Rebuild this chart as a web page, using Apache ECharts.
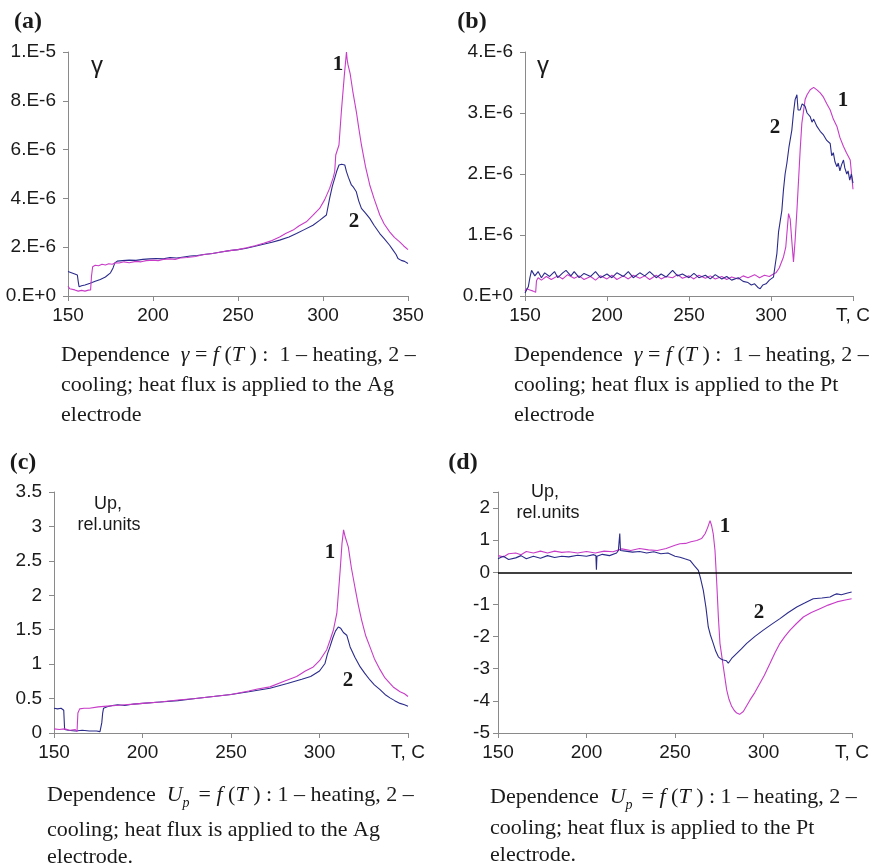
<!DOCTYPE html>
<html>
<head>
<meta charset="utf-8">
<script src="https://cdn.jsdelivr.net/npm/echarts@6/dist/echarts.min.js"></script>
<style>
html,body{margin:0;padding:0;background:#fff;}
#chart{width:877px;height:866px;}
</style>
</head>
<body>
<div id="chart"></div>
<script>
// ---------- DATA ----------
// x values: temperature T, C
var xTicks = [150, 200, 250, 300, 350];

// (a) gamma vs T, Ag electrode (values in units of 1e-6)
var aHeat = [[150,0.4],[151,0.3],[152,0.22],[154,0.25],[156,0.2],[158,0.23],[160,0.2],[162,0.24],[163.3,0.25],[163.8,0.8],[164.5,1.2],[166,1.26],[168,1.24],[170,1.3],[172,1.27],[174,1.32],[176,1.3],[178,1.36],[180,1.35],[183,1.4],[186,1.36],[190,1.42],[193,1.4],[196,1.45],[200,1.47],[203,1.45],[206,1.5],[210,1.52],[213,1.5],[216,1.56],[220,1.58],[225,1.62],[230,1.7],[235,1.74],[240,1.8],[245,1.86],[250,1.9],[255,1.98],[260,2.06],[265,2.16],[270,2.27],[274.5,2.42],[278,2.56],[282.4,2.7],[286,2.88],[290.2,3.04],[294,3.3],[298,3.59],[301,3.95],[303.9,4.41],[306,4.85],[306.9,5.1],[307.5,5.78],[309.4,6.19],[310.8,7.56],[312.5,9.0],[313.8,10.0],[314.2,9.7],[314.7,9.48],[316,9.1],[317.5,8.4],[319.6,7.56],[321,6.9],[322.6,6.19],[325,5.3],[327.5,4.55],[330,4.0],[333.4,3.32],[336,2.95],[339.2,2.63],[342,2.4],[345.1,2.22],[347.5,2.05],[350,1.9]];
var aCool = [[150,1.0],[152,0.95],[154,0.9],[155.5,0.86],[156,0.6],[156.5,0.38],[158,0.42],[160,0.45],[163,0.52],[166,0.6],[169,0.68],[172,0.78],[175,0.95],[176.5,1.15],[177.5,1.35],[179,1.43],[182,1.45],[186,1.47],[190,1.46],[194,1.5],[198,1.52],[202,1.54],[206,1.52],[210,1.58],[214,1.56],[218,1.6],[222,1.64],[226,1.66],[230,1.7],[235,1.74],[240,1.8],[245,1.86],[250,1.9],[255,1.96],[260,2.04],[265,2.12],[270,2.2],[274.5,2.29],[280,2.42],[284.4,2.56],[289,2.72],[294.1,2.9],[298,3.1],[302,3.32],[303.9,4.0],[305.5,4.5],[306.9,4.83],[308,5.1],[309.4,5.37],[311,5.4],[312.8,5.37],[313.8,5.1],[315,4.85],[316.7,4.55],[318,4.45],[319.6,4.27],[321,3.9],[322.6,3.59],[325,3.4],[327.5,3.18],[330,2.9],[333.4,2.56],[336,2.35],[339.2,2.08],[341,1.9],[343,1.7],[344.1,1.54],[346,1.46],[348,1.42],[350,1.33]];
var aYLabels = ['0.E+0','2.E-6','4.E-6','6.E-6','8.E-6','1.E-5'];

// (b) gamma vs T, Pt electrode (values in units of 1e-6)
var bHeat = [[150,0.08],[151,0.12],[153,0.1],[155,0.08],[156.5,0.06],[157,0.25],[158,0.3],[160,0.26],[163,0.32],[166,0.27],[170,0.33],[173,0.28],[176,0.35],[180,0.29],[183,0.33],[186,0.27],[190,0.32],[193,0.26],[196,0.33],[200,0.28],[203,0.34],[206,0.27],[210,0.33],[213,0.28],[216,0.34],[220,0.29],[223,0.33],[226,0.27],[230,0.34],[233,0.28],[236,0.32],[240,0.3],[243,0.35],[246,0.29],[250,0.33],[253,0.28],[256,0.34],[260,0.29],[263,0.33],[266,0.28],[270,0.32],[273,0.27],[276,0.31],[280,0.28],[283,0.33],[286,0.3],[290,0.35],[293,0.3],[296,0.34],[299,0.32],[301.5,0.36],[303,0.38],[305,0.46],[307.6,0.64],[309,0.8],[310.7,1.35],[311.7,1.26],[312.7,0.9],[313.7,0.56],[314.7,0.91],[315.8,1.4],[316.8,1.9],[317.8,2.4],[318.8,2.83],[320.8,3.22],[322,3.3],[323.9,3.38],[325,3.35],[326,3.42],[328,3.38],[330,3.33],[332,3.26],[334,3.15],[336.1,3.05],[338,2.9],[340.2,2.78],[342,2.6],[344.2,2.45],[346,2.35],[348.3,2.23],[349.5,2.2],[350,1.75]];
var bCool = [[150,0.05],[152,0.15],[153,0.3],[154,0.42],[156,0.33],[158,0.4],[160,0.3],[162,0.38],[165,0.32],[168,0.4],[170,0.3],[173,0.38],[175,0.42],[178,0.33],[180,0.4],[183,0.3],[186,0.37],[190,0.32],[193,0.4],[196,0.3],[200,0.36],[203,0.3],[206,0.38],[210,0.32],[213,0.4],[216,0.3],[220,0.38],[223,0.33],[226,0.4],[230,0.3],[233,0.36],[236,0.31],[240,0.42],[243,0.33],[246,0.36],[250,0.3],[253,0.37],[256,0.3],[260,0.34],[263,0.28],[266,0.35],[270,0.28],[273,0.32],[276,0.26],[280,0.3],[283,0.24],[286,0.22],[288,0.18],[290,0.2],[292,0.14],[293.4,0.12],[295,0.18],[297,0.2],[299,0.26],[301.5,0.31],[302.5,0.5],[303.6,0.7],[304.6,1.05],[305.6,1.08],[306.6,1.4],[307.6,1.74],[308.6,2.0],[309.7,2.18],[311,2.45],[312.7,2.72],[313.7,3.0],[314.7,3.22],[315.8,3.3],[316.5,3.05],[317.8,3.05],[319,3.15],[320.8,3.11],[322,3.0],[323.9,2.94],[325,2.85],[326,2.9],[328,2.78],[330,2.7],[332,2.64],[334,2.55],[336.1,2.5],[337,2.3],[338,2.35],[339,2.2],[340.2,2.12],[341,2.18],[342,2.05],[343,2.15],[344.2,2.23],[345,2.1],[346.2,2.0],[347,2.05],[348,1.9],[349,2.0],[350,1.85]];
var bYLabels = ['0.E+0','1.E-6','2.E-6','3.E-6','4.E-6'];

// (c) Up vs T, Ag electrode (rel. units)
var cHeat = [[150,0.06],[153,0.05],[156,0.06],[159,0.04],[162,0.05],[163,0.02],[163.5,0.29],[164.5,0.35],[167,0.36],[170,0.36],[175,0.38],[180,0.39],[185,0.4],[190,0.41],[195,0.42],[200,0.43],[210,0.45],[220,0.48],[230,0.5],[240,0.53],[250,0.56],[260,0.61],[265,0.64],[272,0.67],[280,0.75],[287.1,0.82],[292,0.9],[296.5,0.96],[300,1.05],[304.1,1.21],[306,1.35],[307.9,1.5],[309.8,1.74],[311.7,2.37],[312.7,2.75],[313.6,2.95],[314.5,2.85],[316.3,2.7],[318,2.4],[320,2.12],[322,1.85],[323.8,1.64],[326,1.42],[328.5,1.25],[331,1.08],[334.2,0.92],[337,0.8],[339.8,0.72],[342,0.66],[345.5,0.6],[348,0.57],[350,0.53]];
var cCool = [[150,0.36],[152,0.35],[154,0.36],[155.5,0.33],[156,0.05],[158,0.04],[162,0.03],[166,0.04],[170,0.03],[174,0.03],[176,0.02],[177,0.15],[177.5,0.29],[178,0.36],[180,0.38],[183,0.4],[186,0.41],[190,0.4],[195,0.42],[200,0.43],[210,0.45],[220,0.47],[230,0.5],[240,0.53],[250,0.56],[260,0.6],[272,0.65],[281.8,0.72],[290,0.78],[295,0.82],[300,0.9],[303.1,1.01],[304.5,1.15],[305.9,1.25],[307.5,1.38],[309,1.48],[310.6,1.54],[312,1.52],[313.5,1.46],[315.4,1.42],[317.3,1.25],[320,1.1],[323,0.96],[325.5,0.87],[328.5,0.77],[331,0.7],[334.2,0.63],[337,0.56],[339.8,0.51],[342.5,0.47],[345.5,0.43],[348,0.41],[350,0.39]];

// (d) Up vs T, Pt electrode (rel. units)
var dHeat = [[150,0.52],[153,0.48],[156,0.58],[160,0.6],[163,0.55],[166,0.65],[170,0.6],[174,0.66],[178,0.6],[182,0.66],[186,0.62],[190,0.64],[195,0.6],[200,0.65],[205,0.6],[210,0.66],[215,0.64],[220,0.73],[225,0.68],[230,0.74],[235,0.7],[240,0.68],[245,0.74],[250,0.84],[252.8,0.89],[256,0.9],[259,0.95],[262.3,0.99],[265,1.05],[267,1.2],[268.5,1.4],[269.8,1.61],[270.7,1.45],[271.6,1.2],[272.6,0.68],[273.6,-0.35],[274.5,-1.39],[275.4,-2.21],[277.3,-2.94],[279.2,-3.66],[280.5,-3.95],[282,-4.17],[283.5,-4.3],[284.9,-4.38],[286.5,-4.42],[288.6,-4.33],[290.5,-4.15],[292.4,-3.97],[295,-3.75],[298,-3.45],[300.5,-3.2],[303.7,-2.83],[306.5,-2.5],[309.3,-2.21],[312,-2.0],[315,-1.8],[318.5,-1.6],[322.5,-1.39],[327,-1.25],[331.9,-1.13],[336.5,-1.02],[341.4,-0.92],[345.5,-0.87],[349.8,-0.82]];
var dCool = [[150,0.42],[153,0.5],[156,0.4],[160,0.45],[163,0.52],[166,0.42],[170,0.5],[174,0.44],[178,0.52],[182,0.46],[186,0.5],[190,0.48],[195,0.53],[200,0.5],[204,0.55],[205.3,0.52],[205.6,0.08],[205.9,0.5],[209,0.56],[213,0.52],[217,0.6],[218,0.68],[218.8,1.21],[219.2,0.68],[222,0.66],[226,0.63],[230,0.65],[234,0.6],[238,0.64],[242,0.58],[246,0.6],[250,0.5],[252.8,0.47],[255.5,0.42],[258.5,0.37],[261,0.2],[263.2,0.06],[264.5,-0.2],[266,-0.56],[267.5,-1.1],[268.8,-1.7],[270,-1.95],[271.6,-2.21],[273,-2.45],[274.5,-2.63],[276,-2.7],[277.3,-2.73],[279,-2.75],[280.1,-2.83],[282,-2.68],[284.9,-2.52],[287.5,-2.38],[290.5,-2.21],[295,-2.0],[299.9,-1.8],[304.5,-1.62],[309.3,-1.44],[314,-1.25],[318.8,-1.08],[323.5,-0.95],[328.1,-0.82],[333,-0.8],[337.6,-0.77],[340,-0.7],[341.4,-0.67],[344,-0.7],[347,-0.65],[349.8,-0.61]];

// ---------- STYLE ----------
var MAG = '#c83cc8', NAVY = '#2b2b8c', AXC = '#8a8a8a', TXT = '#1a1a1a';
var SANS = '"Liberation Sans", Arial, sans-serif';
var SERIF = '"Liberation Serif", "Times New Roman", serif';

function xAxisCfg(gi, lastName) {
  return {
    type: 'value', gridIndex: gi, min: 150, max: 350, interval: 50,
    axisLine: { onZero: false, lineStyle: { color: AXC, width: 1 } },
    axisTick: { length: 5, lineStyle: { color: AXC } },
    splitLine: { show: false },
    axisLabel: {
      fontSize: 19, color: TXT, fontFamily: SANS, margin: 10,
      formatter: function (v) { return (v === 350 && lastName) ? lastName : String(v); }
    }
  };
}
function yAxisCfg(gi, min, max, interval, fmt, margin) {
  return {
    type: 'value', gridIndex: gi, min: min, max: max, interval: interval,
    axisLine: { show: true, onZero: false, lineStyle: { color: AXC, width: 1 } },
    axisTick: { show: true, length: 5, lineStyle: { color: AXC } },
    splitLine: { show: false },
    axisLabel: { fontSize: 19, color: TXT, fontFamily: SANS, margin: margin, formatter: fmt }
  };
}
function line(gi, data, color, extra) {
  var s = {
    type: 'line', xAxisIndex: gi, yAxisIndex: gi, data: data,
    showSymbol: false, symbol: 'none', smooth: false,
    lineStyle: { color: color, width: 1.1 }, itemStyle: { color: color },
    silent: true, animation: false, clip: true
  };
  if (extra) for (var k in extra) s[k] = extra[k];
  return s;
}
function txt(x, y, t, font, size, weight, align) {
  return { type: 'text', x: x, y: y, silent: true,
    style: { text: t, fontFamily: font, fontSize: size, fontWeight: weight || 'normal',
      fill: TXT, align: align || 'center', verticalAlign: 'middle' } };
}
var capRich = {
  n: { fontFamily: SERIF, fontSize: 22, color: TXT },
  i: { fontFamily: SERIF, fontSize: 22, color: TXT, fontStyle: 'italic' },
  s: { fontFamily: SERIF, fontSize: 14, color: TXT, fontStyle: 'italic', padding: [16, 0, 0, 0] }
};
function cap(x, y, t) {
  return { type: 'text', x: x, y: y, silent: true,
    style: { text: t, rich: capRich, fontFamily: SERIF, fontSize: 22, fill: TXT,
      align: 'left', verticalAlign: 'middle' } };
}
var eqG = '{n|Dependence  }{i|γ}{n| = }{i|f}{n| (}{i|T}{n| ) :  1 – heating, 2 –}';
var eqU = '{n|Dependence  }{i|U}{s|p }{n| = }{i|f}{n| (}{i|T}{n| ) : 1 – heating, 2 –}';

var chart = echarts.init(document.getElementById('chart'), null, { renderer: 'canvas' });
chart.setOption({
  animation: false,
  backgroundColor: '#ffffff',
  grid: [
    { left: 68, top: 52, width: 340, height: 244, outerBoundsMode: 'none' },
    { left: 525, top: 52, width: 328, height: 244, outerBoundsMode: 'none' },
    { left: 54, top: 492, width: 354, height: 241, outerBoundsMode: 'none' },
    { left: 498, top: 492, width: 354, height: 241, outerBoundsMode: 'none' }
  ],
  xAxis: [ xAxisCfg(0, null), xAxisCfg(1, 'T, C'), xAxisCfg(2, 'T, C'), xAxisCfg(3, 'T, C') ],
  yAxis: [
    yAxisCfg(0, 0, 10, 2, function (v) { return aYLabels[Math.round(v / 2)]; }, 12),
    yAxisCfg(1, 0, 4, 1, function (v) { return bYLabels[Math.round(v)]; }, 12),
    yAxisCfg(2, 0, 3.5, 0.5, function (v) { return String(v); }, 12),
    yAxisCfg(3, -5, 2.5, 1, function (v) { return (v === Math.round(v)) ? String(v) : ''; }, 8)
  ],
  series: [
    line(0, aCool, NAVY), line(0, aHeat, MAG),
    line(1, bHeat, MAG), line(1, bCool, NAVY),
    line(2, cCool, NAVY), line(2, cHeat, MAG),
    line(3, dHeat, MAG),
    line(3, dCool, NAVY, { markLine: { silent: true, symbol: 'none', animation: false,
      label: { show: false }, lineStyle: { color: '#000', width: 1.5, type: 'solid' },
      data: [{ yAxis: 0 }] } })
  ],
  graphic: [
    txt(28, 22, '(a)', SERIF, 24, 'bold'),
    txt(472, 22, '(b)', SERIF, 24, 'bold'),
    txt(23, 463, '(c)', SERIF, 24, 'bold'),
    txt(463, 463, '(d)', SERIF, 24, 'bold'),
    txt(97, 66, 'γ', SANS, 24),
    txt(543, 66, 'γ', SANS, 24),
    txt(108, 504, 'Up,', SANS, 18),
    txt(109, 525, 'rel.units', SANS, 18),
    txt(545, 492, 'Up,', SANS, 18),
    txt(548, 513, 'rel.units', SANS, 18),
    txt(338, 65, '1', SERIF, 21, 'bold'),
    txt(354, 222, '2', SERIF, 21, 'bold'),
    txt(843, 101, '1', SERIF, 21, 'bold'),
    txt(775, 128, '2', SERIF, 21, 'bold'),
    txt(330, 553, '1', SERIF, 21, 'bold'),
    txt(348, 681, '2', SERIF, 21, 'bold'),
    txt(725, 527, '1', SERIF, 21, 'bold'),
    txt(759, 613, '2', SERIF, 21, 'bold'),
    cap(61, 355, eqG), cap(61, 385, '{n|cooling; heat flux is applied to the Ag}'), cap(61, 415, '{n|electrode}'),
    cap(514, 355, eqG), cap(514, 385, '{n|cooling; heat flux is applied to the Pt}'), cap(514, 415, '{n|electrode}'),
    cap(47, 795, eqU), cap(47, 830, '{n|cooling; heat flux is applied to the Ag}'), cap(47, 857, '{n|electrode.}'),
    cap(490, 797, eqU), cap(490, 828, '{n|cooling; heat flux is applied to the Pt}'), cap(490, 855, '{n|electrode.}')
  ]
});
</script>
</body>
</html>
